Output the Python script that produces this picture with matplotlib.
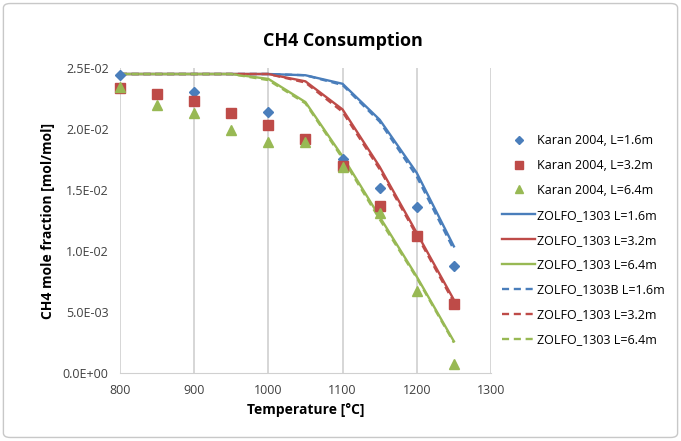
"""CH4 consumption: Karan 2004 data vs ZOLFO_1303 model."""

import matplotlib.pyplot as plt
from matplotlib.patches import FancyBboxPatch

plt.rcParams["font.family"] = ["Open Sans", "DejaVu Sans"]

temp_exp = [800, 850, 900, 950, 1000, 1050, 1100, 1150, 1200, 1250]
karan_16 = [0.0244, None, 0.0230, None, 0.02136, None, 0.0175, 0.0152, 0.01357, 0.00874]
karan_32 = [0.02336, 0.0229, 0.02226, 0.0213, 0.0203, 0.0192, 0.0170, 0.01366, 0.0112, 0.00565]
karan_64 = [0.0234, 0.0220, 0.0213, 0.0199, 0.0189, 0.0189, 0.0169, 0.0131, 0.0067, 0.00076]

temp_model = [800, 850, 900, 950, 1000, 1050, 1100, 1150, 1200, 1250]
zolfo_16 = [0.0245, 0.0245, 0.0245, 0.0245, 0.0245, 0.0244, 0.0237, 0.02076, 0.0164, 0.01038]
zolfo_32 = [0.0245, 0.0245, 0.0245, 0.0245, 0.0245, 0.0239, 0.0216, 0.0169, 0.01148, 0.0060]
zolfo_64 = [0.0245, 0.0245, 0.0245, 0.0245, 0.0241, 0.0222, 0.01775, 0.0128, 0.0079, 0.0026]
zolfo_16b = [0.0245, 0.0245, 0.0245, 0.0245, 0.0245, 0.0244, 0.0236, 0.0206, 0.0161, 0.0101]
zolfo_32b = [0.0245, 0.0245, 0.0245, 0.0245, 0.0245, 0.0238, 0.0214, 0.0167, 0.0113, 0.0058]
zolfo_64b = [0.0245, 0.0245, 0.0245, 0.0245, 0.0240, 0.0221, 0.0176, 0.0126, 0.0078, 0.0025]

blue, red, green = "#4a7ebb", "#be4b48", "#98b954"


def pairs(xs, ys):
    pts = [(x, y) for x, y in zip(xs, ys) if y is not None]
    return [p[0] for p in pts], [p[1] for p in pts]


fig = plt.figure(figsize=(6.81, 4.41), dpi=100)
ax = fig.add_axes([0.176, 0.154, 0.545, 0.692])

x, y = pairs(temp_exp, karan_16)
ax.plot(x, y, "D", color=blue, ms=5.5, label="Karan 2004, L=1.6m", zorder=4, clip_on=False)
ax.plot(temp_exp, karan_32, "s", color=red, ms=7, label="Karan 2004, L=3.2m", zorder=4, clip_on=False)
ax.plot(temp_exp, karan_64, "^", color=green, ms=7.5, label="Karan 2004, L=6.4m", zorder=4, clip_on=False)

ax.plot(temp_model, zolfo_16, "-", color=blue, lw=1.7, label="ZOLFO_1303 L=1.6m")
ax.plot(temp_model, zolfo_32, "-", color=red, lw=1.7, label="ZOLFO_1303 L=3.2m")
ax.plot(temp_model, zolfo_64, "-", color=green, lw=1.7, label="ZOLFO_1303 L=6.4m")
ax.plot(temp_model, zolfo_16b, "--", color=blue, lw=1.7, dashes=(3, 2), label="ZOLFO_1303B L=1.6m")
ax.plot(temp_model, zolfo_32b, "--", color=red, lw=1.7, dashes=(3, 2), label="ZOLFO_1303 L=3.2m")
ax.plot(temp_model, zolfo_64b, "--", color=green, lw=1.7, dashes=(3, 2), label="ZOLFO_1303 L=6.4m")

ax.set_xlim(800, 1300)
ax.set_ylim(0, 0.025)
ax.set_xticks(range(800, 1301, 100))
ax.set_yticks([0, 0.005, 0.01, 0.015, 0.02, 0.025])
ax.set_yticklabels(["0.0E+00", "5.0E-03", "1.0E-02", "1.5E-02", "2.0E-02", "2.5E-02"])
ax.tick_params(labelsize=9, length=0, colors="#404040", pad=8)
ax.grid(axis="x", color="#d0d0d0", lw=1.2)
ax.set_axisbelow(True)
for s in ["top", "right", "left"]:
    ax.spines[s].set_visible(False)
ax.spines["bottom"].set_color("#d0d0d0")

ax.set_title("CH4 Consumption", fontsize=13, fontweight="bold", pad=16, x=0.6)
ax.set_xlabel("Temperature [°C]", fontsize=10, fontweight="bold", labelpad=4)
ax.set_ylabel("CH4 mole fraction [mol/mol]", fontsize=10, fontweight="bold", labelpad=6)

ax.legend(loc="upper left", bbox_to_anchor=(1.0, 0.82), frameon=False, fontsize=9,
          handlelength=2.6, labelspacing=0.95, handletextpad=0.2, markerscale=0.8)

fig.patches.append(FancyBboxPatch((0.005, 0.008), 0.99, 0.984, boxstyle="round,pad=0,rounding_size=0.01",
                                  transform=fig.transFigure, fill=False, ec="#c8c8c8", lw=1))

fig.savefig("out.png", dpi=100)
